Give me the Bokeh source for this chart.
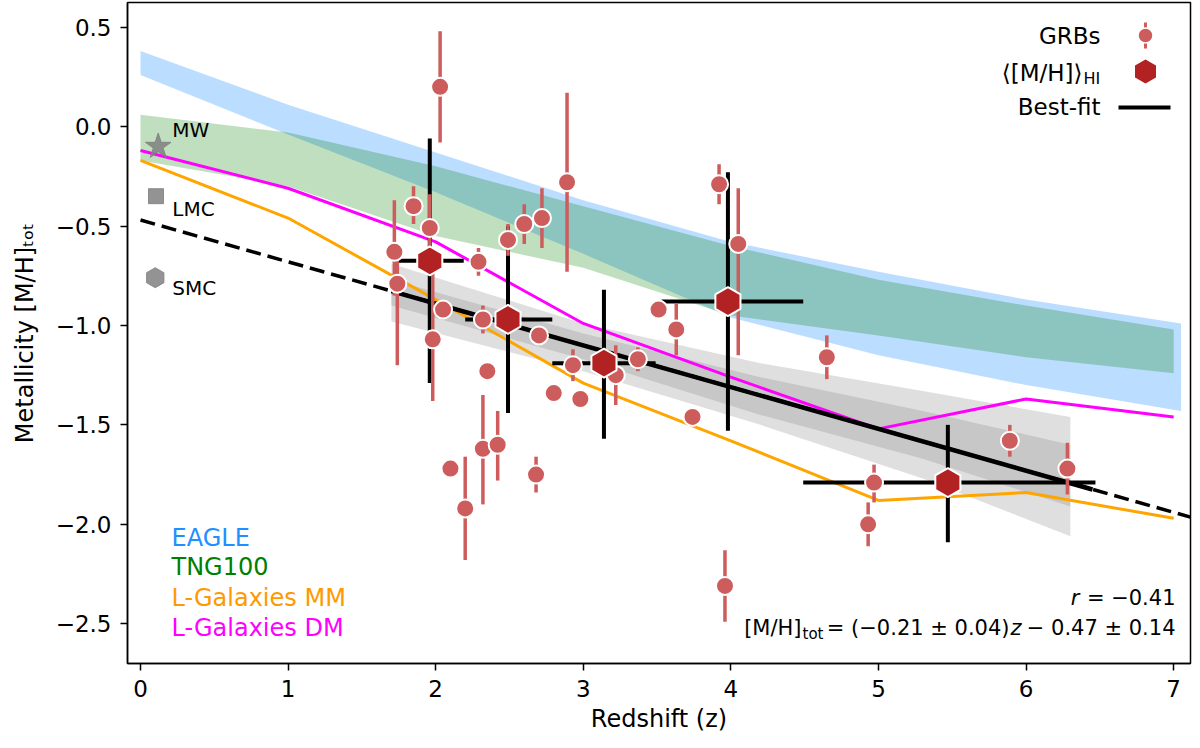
from math import pi
from bokeh.plotting import figure
from bokeh.models import Range1d, Label, FixedTicker, CustomJSTickFormatter
from bokeh.embed import file_html
from bokeh.resources import INLINE

FONT = "DejaVu Sans"

# simulation tracks
sim_z = [0, 1, 2, 3, 4, 5, 6, 7]
eagle_z = [0, 1, 2, 3, 4, 5, 6, 7.05]
eagle_hi = [0.38, 0.11, -0.13, -0.37, -0.58, -0.73, -0.87, -0.99]
eagle_lo = [0.26, -0.04, -0.33, -0.64, -0.96, -1.15, -1.30, -1.43]
tng_hi = [0.06, -0.03, -0.20, -0.40, -0.60, -0.77, -0.90, -1.02]
tng_lo = [-0.17, -0.30, -0.55, -0.71, -0.95, -1.05, -1.16, -1.24]
lgal_mm = [-0.17, -0.46, -0.87, -1.29, -1.58, -1.88, -1.84, -1.97]
lgal_dm = [-0.12, -0.31, -0.58, -0.99, -1.26, -1.52, -1.37, -1.46]

# best fit and its confidence bands
fit_dash_z = [0.0, 7.12]
fit_dash_m = [-0.47, -1.965]
fit_solid_z = [1.70, 6.45]
fit_solid_m = [-0.827, -1.825]
band_z = [1.7, 3.0, 4.2, 5.3, 6.3]
outer_hi = [-0.69, -0.99, -1.19, -1.33, -1.46]
outer_lo = [-0.98, -1.23, -1.50, -1.77, -2.06]
inner_hi = [-0.77, -1.04, -1.26, -1.43, -1.60]
inner_lo = [-0.90, -1.17, -1.45, -1.67, -1.91]

# GRB measurements
grb_z = [1.72, 1.74, 1.85, 1.96, 1.98, 2.03, 2.05, 2.10, 2.20, 2.29, 2.32, 2.32,
         2.35, 2.42, 2.49, 2.60, 2.68, 2.70, 2.72, 2.80, 2.89, 2.93, 2.98, 3.22,
         3.37, 3.51, 3.63, 3.74, 3.92, 3.96, 4.05, 4.65, 4.93, 4.97, 5.89, 6.28]
grb_m = [-0.63, -0.79, -0.40, -0.51, -1.07, 0.20, -0.92, -1.72, -1.92, -0.68, -0.97, -1.62,
         -1.23, -1.60, -0.57, -0.49, -1.75, -1.05, -0.46, -1.34, -0.28, -1.20, -1.37, -1.25,
         -1.17, -0.92, -1.02, -1.46, -0.29, -2.31, -0.59, -1.16, -2.00, -1.79, -1.58, -1.72]
grb_lo = [-0.85, -1.20, -0.49, -0.69, -1.38, -0.08, -0.92, -1.72, -2.18, -0.75, -1.04, -1.90,
          -1.23, -1.78, -0.65, -0.59, -1.84, -1.05, -0.61, -1.34, -0.73, -1.28, -1.37, -1.40,
          -1.23, -0.92, -1.15, -1.46, -0.39, -2.49, -1.15, -1.27, -2.11, -1.89, -1.66, -1.85]
grb_hi = [-0.37, -0.60, -0.30, -0.34, -0.70, 0.48, -0.92, -1.72, -1.66, -0.61, -0.90, -1.35,
          -1.23, -1.43, -0.49, -0.39, -1.66, -1.05, -0.31, -1.34, 0.17, -1.12, -1.37, -1.10,
          -1.11, -0.92, -0.89, -1.46, -0.19, -2.13, -0.31, -1.05, -1.89, -1.70, -1.50, -1.59]

# binned <[M/H]>_HI
hex_z = [1.96, 2.49, 3.14, 3.98, 5.47]
hex_m = [-0.675, -0.97, -1.19, -0.88, -1.79]
hex_zlo = [1.71, 2.20, 2.79, 3.53, 4.49]
hex_zhi = [2.19, 2.79, 3.49, 4.49, 6.47]
hex_mlo = [-1.29, -1.44, -1.57, -1.53, -2.09]
hex_mhi = [-0.06, -0.50, -0.82, -0.23, -1.50]

# local galaxies
loc_names = ["MW", "LMC", "SMC"]
loc_z = [0.12, 0.105, 0.10]
loc_m = [-0.10, -0.35, -0.76]

X0, X1 = -0.088, 7.114
Y0, Y1 = -2.70, 0.624
FL, FR, FT, FB = 127, 1190, 2, 663


def px2x(px):
    return X0 + (px - FL) / (FR - FL) * (X1 - X0)


def py2y(py):
    return Y1 - (py - FT) / (FB - FT) * (Y1 - Y0)


p = figure(width=1192, height=740, x_range=Range1d(X0, X1), y_range=Range1d(Y0, Y1),
           output_backend="svg", toolbar_location=None, title=None,
           min_border_left=FL, min_border_right=2, min_border_top=FT, min_border_bottom=77)
p.grid.visible = False
p.outline_line_color = "black"
p.outline_line_width = 1.5
p.background_fill_color = "white"

for ax in (p.xaxis[0], p.yaxis[0]):
    ax.axis_line_width = 1.5
    ax.major_tick_line_width = 1.5
    ax.major_tick_out = 7
    ax.major_tick_in = 0
    ax.minor_tick_line_color = None
    ax.major_label_text_font = FONT
    ax.major_label_text_font_size = "23px"
    ax.major_label_text_color = "black"
    ax.major_label_standoff = 9
    ax.axis_label_text_font = FONT
    ax.axis_label_text_font_style = "normal"
    ax.axis_label_text_font_size = "24px"
    ax.axis_label_text_color = "black"

p.xaxis.ticker = FixedTicker(ticks=[0, 1, 2, 3, 4, 5, 6, 7])
p.xaxis.formatter = CustomJSTickFormatter(code="return tick.toFixed(0)")
p.yaxis.ticker = FixedTicker(ticks=[-2.5, -2.0, -1.5, -1.0, -0.5, 0.0, 0.5])
p.yaxis.formatter = CustomJSTickFormatter(code="return tick.toFixed(1).replace('-', '\\u2212')")
p.xaxis.axis_label = "Redshift (z)"
p.xaxis.axis_label_standoff = 5
p.yaxis.axis_label = "Metallicity [M/H]\u209c\u2092\u209c"
p.yaxis.axis_label_standoff = 14

# simulation bands and lines
p.varea(x=eagle_z, y1=eagle_lo, y2=eagle_hi, fill_color="#1E90FF", fill_alpha=0.3)
p.varea(x=sim_z, y1=tng_lo, y2=tng_hi, fill_color="#008000", fill_alpha=0.25)
p.varea(x=band_z, y1=outer_lo, y2=outer_hi, fill_color="gray", fill_alpha=0.25)
p.varea(x=band_z, y1=inner_lo, y2=inner_hi, fill_color="gray", fill_alpha=0.25)
p.line(sim_z, lgal_mm, line_color="#FFA500", line_width=3)
p.line(sim_z, lgal_dm, line_color="#FF00FF", line_width=3)

# best fit
p.line(fit_dash_z, fit_dash_m, line_color="black", line_width=3.5, line_dash="15 7")
p.line(fit_solid_z, fit_solid_m, line_color="black", line_width=4.5)

# local galaxies
p.scatter([loc_z[0]], [loc_m[0]], marker="star", size=27, fill_color="gray",
          line_color="gray", fill_alpha=0.85, line_alpha=0.85)
p.scatter([loc_z[1]], [loc_m[1]], marker="square", size=15, fill_color="gray",
          line_color="gray", fill_alpha=0.85, line_alpha=0.85)
p.scatter([loc_z[2]], [loc_m[2]], marker="hex", angle=pi / 2, size=20, fill_color="gray",
          line_color="gray", fill_alpha=0.85, line_alpha=0.85)
for i, dy in enumerate([16, -13, -10]):
    p.add_layout(Label(x=0.10, y=loc_m[i], x_offset=17, y_offset=dy, text=loc_names[i],
                       text_font=FONT, text_font_size="20px", text_baseline="middle",
                       text_color="black"))

# binned error bars
p.segment(x0=hex_zlo, y0=hex_m, x1=hex_zhi, y1=hex_m, line_color="black", line_width=4)
p.segment(x0=hex_z, y0=hex_mlo, x1=hex_z, y1=hex_mhi, line_color="black", line_width=4)

# GRBs
p.segment(x0=grb_z, y0=grb_lo, x1=grb_z, y1=grb_hi, line_color="#CD5C5C", line_width=3.5)
p.scatter(grb_z, grb_m, size=18, fill_color="#CD5C5C", line_color="white", line_width=2)

# binned means
p.scatter(hex_z, hex_m, marker="hex", angle=pi / 2, size=29, fill_color="#B22222",
          line_color="white", line_width=2)

# legend (top right, labels before markers)
lx = px2x(1145)
p.segment(x0=[lx], y0=[py2y(22)], x1=[lx], y1=[py2y(48)], line_color="#CD5C5C", line_width=3)
p.scatter([lx], [py2y(35)], size=15, fill_color="#CD5C5C", line_color="white", line_width=1.5)
p.scatter([lx], [py2y(71)], marker="hex", angle=pi / 2, size=26, fill_color="#B22222",
          line_color="white", line_width=1.5)
p.line([px2x(1118), px2x(1170)], [py2y(107), py2y(107)], line_color="black", line_width=4)


def lab(px, py, text, size="23px", align="left", color="black", style="normal"):
    # px, py: pixel position of the text's middle in the picture
    p.add_layout(Label(x=px - FL, y=FB - py, x_units="screen", y_units="screen", text=text,
                       text_font=FONT, text_font_size=size, text_align=align,
                       text_baseline="middle", text_color=color, text_font_style=style))


lab(1100, 35, "GRBs", align="right")
lab(1082, 72, "\u27e8[M/H]\u27e9", align="right")
lab(1083, 78, "HI", size="16px")
lab(1100, 106, "Best-fit", align="right")

# simulation names (bottom left)
lab(171, 537, "EAGLE", size="24px", color="#1E90FF")
lab(171, 566, "TNG100", size="24px", color="#008000")
lab(171, 597, "L-Galaxies MM", size="24px", color="#FF9900")
lab(171, 627, "L-Galaxies DM", size="24px", color="#FF00FF")

# fit annotation (bottom right)
lab(1175, 597, "= \u22120.41", size="21px", align="right")
lab(1079, 597, "r", size="21px", align="right", style="italic")
lab(801, 627, "[M/H]", size="21px", align="right")
lab(802, 633, "tot", size="15px")
lab(1009, 627, "= (\u22120.21 \u00b1 0.04)", size="21px", align="right")
lab(1010, 627, "z", size="21px", style="italic")
lab(1175, 627, "\u2212 0.47 \u00b1 0.14", size="21px", align="right")

open("out.html", "w").write(file_html(p, INLINE))
